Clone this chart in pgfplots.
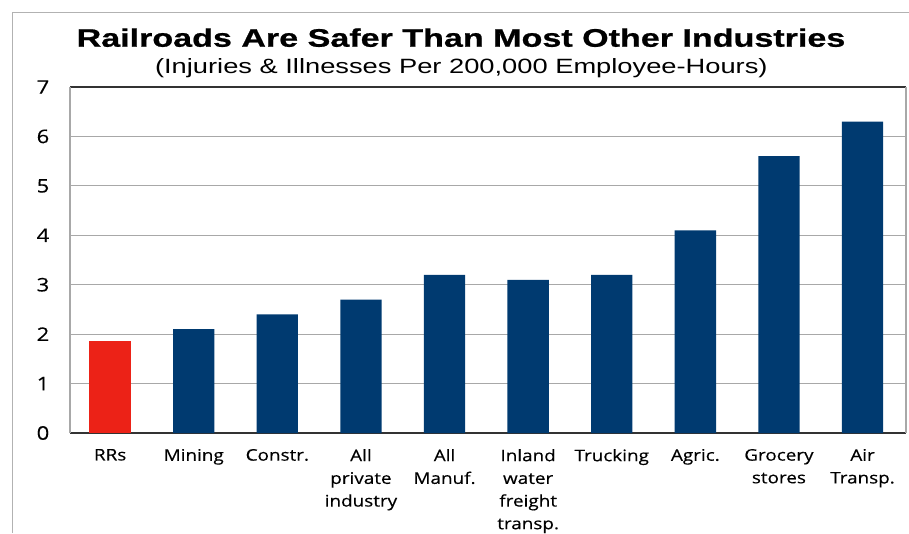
\documentclass[border=0pt]{standalone}
\usepackage{pgfplots}
\pgfplotsset{compat=1.18}
\usepackage{fontspec}
\setmainfont[FakeStretch=1.18,FakeBold=0.4]{Open Sans}
\newfontfamily\titlefont[FakeStretch=1.32]{Liberation Sans}
\newfontfamily\titlefontb[FakeStretch=1.345,FakeBold=0.8]{Liberation Sans Bold}
\definecolor{navy}{HTML}{003A70}
\definecolor{rrred}{HTML}{EC2217}
\definecolor{gridgray}{HTML}{A8A8A8}
\begin{document}
\begin{tikzpicture}
\draw[gray!60,line width=0.8pt] (9.5pt,0pt) -- (9.5pt,390.5pt) -- (681.75pt,390.5pt);
\node[font=\titlefontb\fontsize{19}{22}\selectfont] at (345.75pt,371.5pt) {Railroads Are Safer Than Most Other Industries};
\node[font=\titlefont\fontsize{15.5}{18}\selectfont] at (346pt,348.5pt) {(Injuries \& Illnesses Per 200,000 Employee-Hours)};
\begin{axis}[
  at={(52.5pt,75pt)}, anchor=south west,
  scale only axis, width=627pt, height=259.5pt,
  ymin=0, ymax=7, xmin=-0.48, xmax=9.52,
  ytick={0,1,...,7},
  xtick={0,...,9},
  xticklabels={RRs,Mining,Constr.,All\\private\\industry,All\\Manuf.,Inland\\water\\freight\\transp.,Trucking,Agric.,Grocery\\stores,Air\\Transp.},
  xticklabel style={align=center, font=\fontsize{12}{17}\selectfont, yshift=-8.5pt},
  yticklabel style={font=\fontsize{14}{16}\selectfont, xshift=-12pt},
  /pgf/number format/assume math mode=true,
  major tick length=0pt,
  ymajorgrids, grid style={gridgray, line width=0.6pt},
  axis line style={gridgray, line width=0.8pt},
  separate axis lines,
  x axis line style={black!80},
  ybar, bar width=31pt,
  enlargelimits=false,
]
\addplot[fill=navy, draw=none, bar shift=0pt] coordinates {(1,2.1) (2,2.4) (3,2.7) (4,3.2) (5,3.1) (6,3.2) (7,4.1) (8,5.6) (9,6.3)};
\addplot[fill=rrred, draw=none, bar shift=0pt] coordinates {(0,1.86)};
\end{axis}
\pgfresetboundingbox
\useasboundingbox (0pt,0pt) rectangle (681.75pt,399.75pt);
\end{tikzpicture}
\end{document}
